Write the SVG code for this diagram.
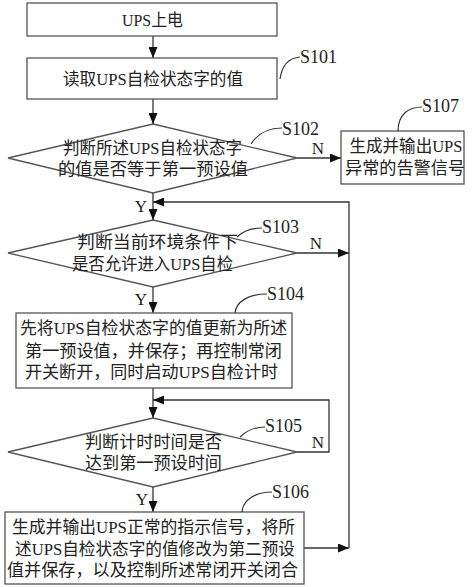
<svg xmlns="http://www.w3.org/2000/svg" width="474" height="587" viewBox="0 0 474 587">
<style>
.box{fill:#fff;stroke:#555;stroke-width:1.3}
.ln{fill:none;stroke:#333;stroke-width:1.3}
.lead{fill:none;stroke:#333;stroke-width:1.2}
text{font-family:'Liberation Serif','Noto Sans CJK SC',serif;fill:#222}
.t{font-size:17px;text-anchor:middle}
.lab{font-size:18px}
.yn{font-size:17px}
</style>
<defs>
<marker id="ah" markerUnits="userSpaceOnUse" markerWidth="11" markerHeight="9" refX="11" refY="4.5" orient="auto">
<path d="M0,0 L11,4.5 L0,9 z" fill="#111"/>
</marker>
</defs>
<rect width="474" height="587" fill="#fff"/>
<g id="connectors">
<path class="ln" d="M153,36 V58" marker-end="url(#ah)"/>
<path class="ln" d="M153,99 V124" marker-end="url(#ah)"/>
<path class="ln" d="M297,158 H341" marker-end="url(#ah)"/>
<path class="ln" d="M153,193 V220" marker-end="url(#ah)"/>
<path class="ln" d="M297,253 H349" marker-end="url(#ah)"/>
<path class="ln" d="M153,287 V313" marker-end="url(#ah)"/>
<path class="ln" d="M153,388 V418" marker-end="url(#ah)"/>
<path class="ln" d="M297,452 H329 V400 H153" marker-end="url(#ah)"/>
<path class="ln" d="M153,487 V512" marker-end="url(#ah)"/>
<path class="ln" d="M304,548 H349" marker-end="url(#ah)"/>
<path class="ln" d="M349,548 V202 H153" marker-end="url(#ah)"/>
<text class="yn" x="141" y="212" text-anchor="middle">Y</text>
<text class="yn" x="318" y="154" text-anchor="middle">N</text>
<text class="yn" x="316" y="249" text-anchor="middle">N</text>
<text class="yn" x="141" y="305" text-anchor="middle">Y</text>
<text class="yn" x="318" y="448" text-anchor="middle">N</text>
<text class="yn" x="142" y="505" text-anchor="middle">Y</text>
</g>
<g id="start">
<rect class="box" x="27" y="3" width="250" height="33"/>
<text class="t" x="152.5" y="26" textLength="61" lengthAdjust="spacingAndGlyphs">UPS上电</text>
</g>
<g id="S101">
<rect class="box" x="27" y="58" width="250" height="41"/>
<text class="t" x="153" y="85" textLength="180" lengthAdjust="spacingAndGlyphs">读取UPS自检状态字的值</text>
<path class="lead" d="M280,79 C282,65 288,58 300,57"/>
<text class="lab" x="300" y="63">S101</text>
</g>
<g id="S102">
<polygon class="box" points="153,124 297,158 153,193 8,158"/>
<text class="t" x="152.5" y="154" textLength="179" lengthAdjust="spacingAndGlyphs">判断所述UPS自检状态字</text>
<text class="t" x="153" y="175" textLength="190" lengthAdjust="spacingAndGlyphs">的值是否等于第一预设值</text>
<path class="lead" d="M251,144 C258,133 268,128 282,128"/>
<text class="lab" x="282" y="135">S102</text>
</g>
<g id="S107">
<rect class="box" x="341" y="131" width="123" height="53"/>
<text class="t" x="406" y="152" textLength="113" lengthAdjust="spacingAndGlyphs">生成并输出UPS</text>
<text class="t" x="405" y="174" textLength="120" lengthAdjust="spacingAndGlyphs">异常的告警信号</text>
<path class="lead" d="M398,131 C398,115 408,107 422,107"/>
<text class="lab" x="422" y="112">S107</text>
</g>
<g id="S103">
<polygon class="box" points="153,220 297,253 153,287 8,253"/>
<text class="t" x="157.5" y="248" textLength="161" lengthAdjust="spacingAndGlyphs">判断当前环境条件下</text>
<text class="t" x="152.5" y="270" textLength="161" lengthAdjust="spacingAndGlyphs">是否允许进入UPS自检</text>
<path class="lead" d="M237,237 C243,231 250,228 262,228"/>
<text class="lab" x="262" y="233">S103</text>
</g>
<g id="S104">
<rect class="box" x="16" y="313" width="276" height="75"/>
<text class="t" x="153.5" y="334" textLength="267" lengthAdjust="spacingAndGlyphs">先将UPS自检状态字的值更新为所述</text>
<text class="t" x="153.5" y="357" textLength="257" lengthAdjust="spacingAndGlyphs">第一预设值，并保存；再控制常闭</text>
<text class="t" x="151.5" y="378" textLength="253" lengthAdjust="spacingAndGlyphs">开关断开，同时启动UPS自检计时</text>
<path class="lead" d="M235,313 C236,302 248,294 267,294"/>
<text class="lab" x="267" y="300">S104</text>
</g>
<g id="S105">
<polygon class="box" points="153,418 297,452 153,487 8,452"/>
<text class="t" x="153.5" y="448" textLength="137" lengthAdjust="spacingAndGlyphs">判断计时时间是否</text>
<text class="t" x="153.5" y="469" textLength="137" lengthAdjust="spacingAndGlyphs">达到第一预设时间</text>
<path class="lead" d="M240,437 C246,431 253,427 265,427"/>
<text class="lab" x="265" y="432">S105</text>
</g>
<g id="S106">
<rect class="box" x="5" y="512" width="299" height="72"/>
<text class="t" x="153.5" y="533" textLength="283" lengthAdjust="spacingAndGlyphs">生成并输出UPS正常的指示信号，将所</text>
<text class="t" x="155" y="555" textLength="280" lengthAdjust="spacingAndGlyphs">述UPS自检状态字的值修改为第二预设</text>
<text class="t" x="152.5" y="576" textLength="291" lengthAdjust="spacingAndGlyphs">值并保存，以及控制所述常闭开关闭合</text>
<path class="lead" d="M242,512 C243,500 255,492 272,492"/>
<text class="lab" x="272" y="498">S106</text>
</g>
</svg>
